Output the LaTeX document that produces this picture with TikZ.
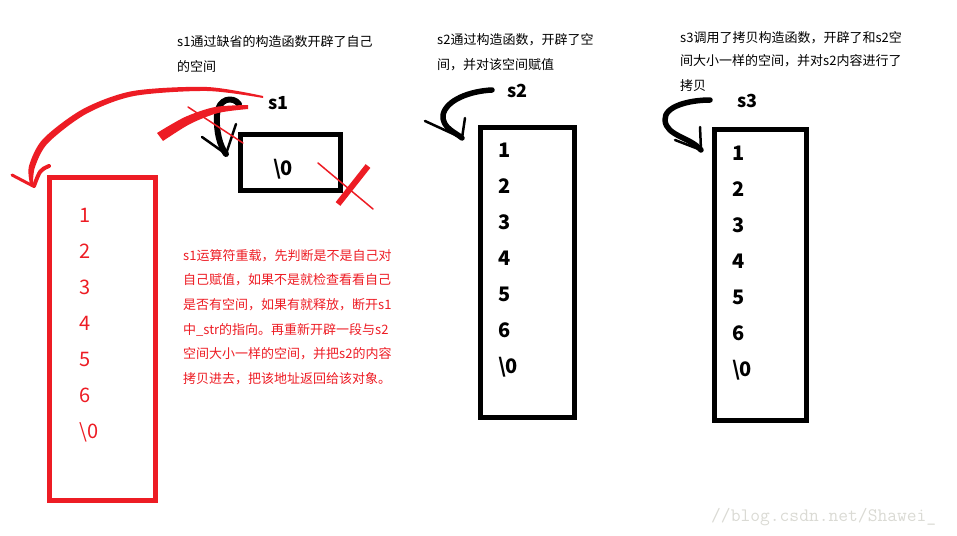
\documentclass[tikz,border=0pt]{standalone}
\usepackage{fontspec}
\setmainfont{Noto Sans CJK SC}
\usetikzlibrary{arrows.meta,positioning}
\definecolor{pen}{HTML}{ED1C24}
\definecolor{mark}{HTML}{DADAD4}
\tikzset{
  memo/.style={font=\fontsize{13}{13}\selectfont,inner sep=0pt,anchor=base west},
  cell/.style={font=\bfseries\fontsize{20}{20}\selectfont,inner sep=0pt,anchor=base west},
  tag/.style={font=\bfseries\fontsize{18}{18}\selectfont,inner sep=0pt,anchor=base west},
  frame/.style={draw,line width=5pt,inner sep=0pt},
  brush/.style={line width=5pt,line cap=round,line join=round},
  hair/.style={line width=1.5pt,line cap=round}
}

\begin{document}
\begin{tikzpicture}[x=1pt,y=-1pt]
\useasboundingbox (0,0) rectangle (957,535);
% captions
\foreach \t [count=\i from 0] in {s1通过缺省的构造函数开辟了自己,的空间}
  \node[memo] (capa\i) at (177,47+24*\i) {\t};
\foreach \t [count=\i from 0] in {s2通过构造函数，开辟了空,间，并对该空间赋值}
  \node[memo] (capb\i) at (437,45+24*\i) {\t};
\foreach \t [count=\i from 0] in {s3调用了拷贝构造函数，开辟了和s2空,间大小一样的空间，并对s2内容进行了,拷贝}
  \node[memo] (capc\i) at (680,42+24*\i) {\t};
\foreach \t [count=\i from 0] in {s1运算符重载，先判断是不是自己对,自己赋值，如果不是就检查看看自己,是否有空间，如果有就释放，断开s1,中\_str的指向。再重新开辟一段与s2,空间大小一样的空间，并把s2的内容,拷贝进去，把该地址返回给该对象。}
  \node[memo,text=pen] (note\i) at (183,260+24.7*\i) {\t};

% boxes
\node[frame,pen,minimum width=106pt,minimum height=323pt] (old) at (102,338.5) {};
\node[frame,minimum width=100pt,minimum height=56pt] (s1box) at (290,162) {};
\node[frame,minimum width=94pt,minimum height=290pt] (s2box) at (527,272) {};
\node[frame,minimum width=92pt,minimum height=291pt] (s3box) at (760,274.5) {};
\node[tag] (s1) at (268,109) {s1};
\node[tag] (s2) at (507,97) {s2};
\node[tag] (s3) at (737,107) {s3};
\node[cell] (s1end) at (273,175) {\textbackslash 0};
\foreach \v [count=\i from 0] in {1,2,3,4,5,6,\textbackslash 0} {
  \node[cell,font=\fontsize{20}{20}\selectfont,text=pen] (old\i) at (79,222+36*\i) {\v};
  \node[cell] (s2c\i) at (498,157+36*\i) {\v};
  \node[cell] (s3c\i) at (732,160+36*\i) {\v};
}

% hooks
\coordinate (s1tip) at (226,154);
\coordinate (s2tip) at (462,138);
\coordinate (s3tip) at (701,150);
\draw[brush,line width=6pt] (239,104) .. controls (233,96) and (218,98) .. (217,115)
  .. controls (216,132) and (220,146) .. (s1tip);
\draw[line width=2.5pt,line cap=round,line join=round] (202,137) -- (s1tip) -- (236,124);
\draw[brush,line width=5.5pt] (492,90) .. controls (470,91) and (446,100) .. (443,115)
  .. controls (442,128) and (455,132) .. (s2tip);
\draw[line width=2.5pt,line cap=round,line join=round] (425,121) -- (s2tip) -- (465,118);
\draw[brush,line width=5.5pt] (710,100) .. controls (690,100) and (664,106) .. (665,120)
  .. controls (666,136) and (690,137) .. (s3tip);
\draw[line width=2.5pt,line cap=round,line join=round] (675,140) -- (s3tip) -- (700,127);

% red strokes
\fill[pen] plot[smooth] coordinates {(263,96) (207,87) (133,91) (83,109) (43,139) (29,166) (30,184)}
  -- plot[smooth] coordinates {(33,184) (35,167) (48,143) (86,114) (134,96) (207,91) (263,98)} -- cycle;
\draw[pen,line width=3pt,line cap=round] (12,175) -- (33,186);
\draw[pen,line width=4pt,line cap=round] (49,166) .. controls (40,170) .. (34,186);
\fill[pen] plot[smooth] coordinates {(157,133) (185,117) (215,107) (248,105)}
  -- plot[smooth] coordinates {(248,109) (218,113) (190,124) (163,141)} -- cycle;
\draw[pen,hair] (188,107) -- (243,143);
\draw[pen,line width=6pt] (368,166) -- (338,204);
\draw[pen,hair] (318,163) -- (373,209);

% watermark
\node[font=\ttfamily\fontsize{19}{19}\selectfont,text=mark,inner sep=0pt,anchor=base west] (mark) at (711,521) {//blog.csdn.net/Shawei\_};
\end{tikzpicture}
\end{document}
